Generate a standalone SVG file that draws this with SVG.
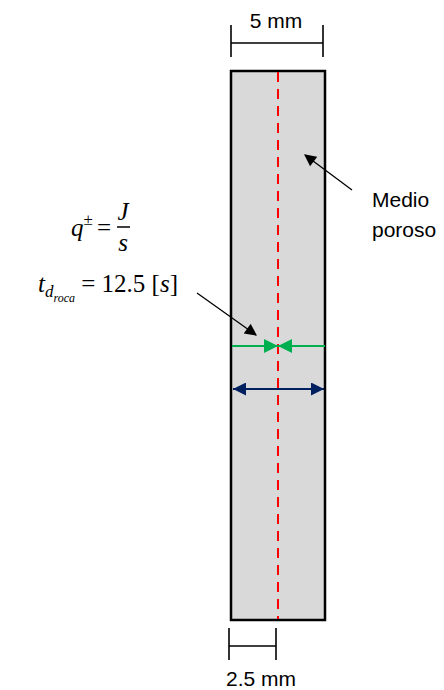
<svg xmlns="http://www.w3.org/2000/svg" width="444" height="690" viewBox="0 0 444 690">
<style>
.lbl{font-family:"Liberation Sans","Open Sans",sans-serif;font-size:21px;fill:#000}
.math{font-family:"Liberation Serif","DejaVu Serif",serif;font-size:25px;fill:#000}
.it{font-style:italic}
.dim{stroke:#000;stroke-width:1.6;fill:none}
</style>
<defs>
<marker id="ab" viewBox="0 0 10 10" refX="9" refY="5" markerWidth="14" markerHeight="12" markerUnits="userSpaceOnUse" orient="auto"><path d="M0,0L10,5L0,10z" fill="#000"/></marker>
<marker id="ag" viewBox="0 0 10 10" refX="10" refY="5" markerWidth="14" markerHeight="14" markerUnits="userSpaceOnUse" orient="auto"><path d="M0,0L10,5L0,10z" fill="#00b050"/></marker>
<marker id="an" viewBox="0 0 10 10" refX="10" refY="5" markerWidth="15" markerHeight="13" markerUnits="userSpaceOnUse" orient="auto-start-reverse"><path d="M0,0L10,5L0,10z" fill="#002060"/></marker>
</defs>
<g id="medio-poroso">
<rect x="231" y="71" width="94" height="549" fill="#d9d9d9" stroke="#000" stroke-width="2.5"/>
<line x1="278" y1="72" x2="278" y2="619" stroke="#ff0000" stroke-width="2" stroke-dasharray="10,7"/>
</g>
<g id="dim-top">
<line class="dim" x1="231" y1="25" x2="231" y2="57"/>
<line class="dim" x1="323" y1="25" x2="323" y2="57"/>
<line class="dim" x1="231" y1="43" x2="323" y2="43"/>
<text class="lbl" x="276" y="28" text-anchor="middle">5 mm</text>
</g>
<g id="dim-bottom">
<line class="dim" x1="229" y1="628" x2="229" y2="660"/>
<line class="dim" x1="276" y1="628" x2="276" y2="660"/>
<line class="dim" x1="229" y1="646" x2="276" y2="646"/>
<text class="lbl" x="226" y="686">2.5 mm</text>
</g>
<g id="label-medio">
<text class="lbl" x="372" y="207">Medio</text>
<text class="lbl" x="372" y="237">poroso</text>
</g>
<g id="formula-q">
<text class="math" x="71" y="236"><tspan class="it">q</tspan><tspan font-size="17" dy="-11">±</tspan><tspan x="97" dy="11">=</tspan></text>
<text class="math it" x="123" y="220" text-anchor="middle">J</text>
<line x1="117" y1="227" x2="130" y2="227" stroke="#000" stroke-width="1.5"/>
<text class="math it" x="123" y="251" text-anchor="middle">s</text>
</g>
<g id="formula-t">
<text class="math" x="178" y="292" text-anchor="end"><tspan class="it">t</tspan><tspan class="it" font-size="17" dy="5">d</tspan><tspan class="it" font-size="12" dy="5">roca</tspan><tspan dy="-10"> = 12.5 [</tspan><tspan class="it">s</tspan><tspan>]</tspan></text>
</g>
<g id="connectors">
<line x1="197" y1="293" x2="256" y2="335" stroke="#000" stroke-width="1.3" marker-end="url(#ab)"/>
<line x1="352" y1="190" x2="305" y2="155" stroke="#000" stroke-width="1.3" marker-end="url(#ab)"/>
<line x1="232" y1="346" x2="278" y2="346" stroke="#00b050" stroke-width="2" marker-end="url(#ag)"/>
<line x1="325" y1="346" x2="278" y2="346" stroke="#00b050" stroke-width="2" marker-end="url(#ag)"/>
<line x1="233" y1="389" x2="324" y2="389" stroke="#002060" stroke-width="2" marker-start="url(#an)" marker-end="url(#an)"/>
</g>
</svg>
